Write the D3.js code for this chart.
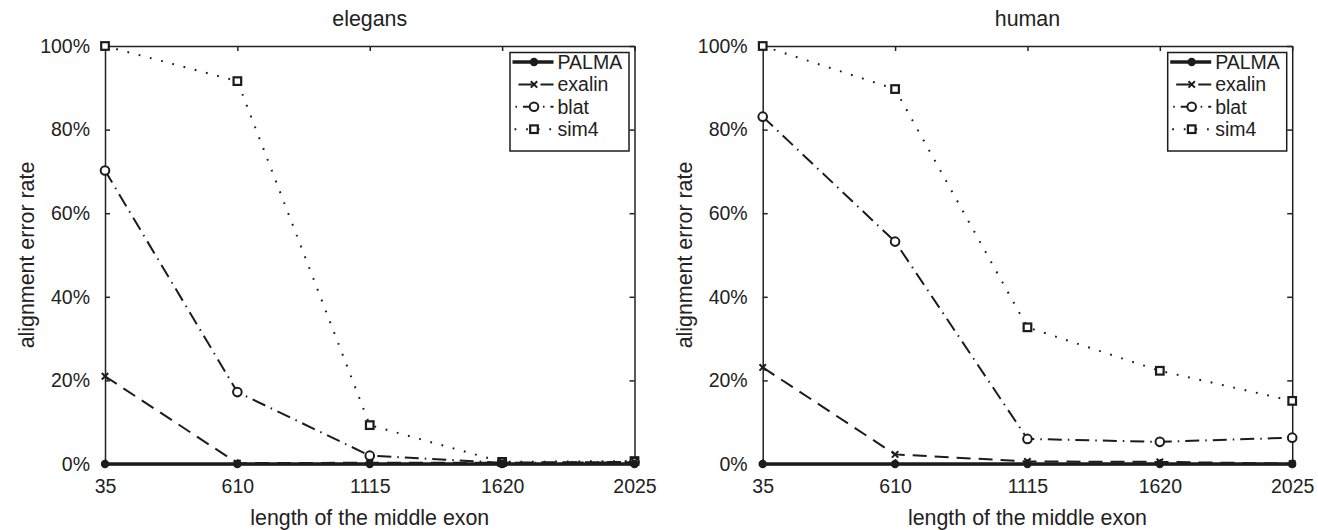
<!doctype html>
<html>
<head>
<meta charset="utf-8">
<title>alignment error rate</title>
<script src="https://cdn.jsdelivr.net/npm/d3@7"></script>
<style>
  body { margin: 0; background: #fff; }
  svg text { font-family: "Liberation Sans", Arial, sans-serif; fill: #222; }
  .axis text { font-size: 19.5px; }
  .axis path, .axis line { stroke: #222; stroke-width: 1.5; }
  .label { font-size: 21.4px; }
</style>
</head>
<body>
<script>
// x categories (length of the middle exon) and y ticks
var lengths = ["35", "610", "1115", "1620", "2025"];
var yTicks = [0, 20, 40, 60, 80, 100];
var methods = ["PALMA", "exalin", "blat", "sim4"];

// error rates in %
var elegansPALMA  = [0, 0, 0, 0, 0];
var elegansExalin = [21, 0.2, 0.3, 0.3, 0.5];
var elegansBlat   = [70.2, 17.2, 2.0, 0.3, 0.4];
var elegansSim4   = [100, 91.6, 9.3, 0.5, 0.7];

var humanPALMA  = [0, 0, 0, 0, 0];
var humanExalin = [23.1, 2.3, 0.6, 0.5, 0.1];
var humanBlat   = [83.1, 53.2, 6.0, 5.3, 6.3];
var humanSim4   = [100, 89.7, 32.7, 22.3, 15.1];

var W = 1318, H = 530;
var svg = d3.select("body").append("svg").attr("width", W).attr("height", H);

// line style for each method (legend offset shifts the dash pattern in the key)
var styles = {
  PALMA:  {width: 3.5, dash: null,         off: 0,  marker: "dot"},
  exalin: {width: 2,   dash: "14,8",       off: -6, marker: "x"},
  blat:   {width: 2,   dash: "14,6,1.5,6", off: 17, marker: "circle"},
  sim4:   {width: 2,   dash: "1.8,9.8",    off: -2, marker: "square"}
};
var ink = "#1c1c1c";

function drawMarker(g, kind, cx, cy){
  if(kind === "dot"){
    g.append("circle").attr("cx", cx).attr("cy", cy).attr("r", 4.2).attr("fill", ink);
  }else if(kind === "circle"){
    g.append("circle").attr("cx", cx).attr("cy", cy).attr("r", 4.3)
      .attr("fill", "#fff").attr("stroke", ink).attr("stroke-width", 2);
  }else if(kind === "square"){
    g.append("rect").attr("x", cx - 3.8).attr("y", cy - 3.8).attr("width", 7.6).attr("height", 7.6)
      .attr("fill", "#fff").attr("stroke", ink).attr("stroke-width", 2.2);
  }else if(kind === "x"){
    var s = 3.2;
    g.append("path").attr("d", "M" + (cx - s) + "," + (cy - s) + "L" + (cx + s) + "," + (cy + s) +
      "M" + (cx - s) + "," + (cy + s) + "L" + (cx + s) + "," + (cy - s))
      .attr("stroke", ink).attr("stroke-width", 2).attr("fill", "none");
  }
}

function drawPanel(left, title, series){
  var right = left + 529.5, top = 46, bottom = 464;
  var x = d3.scalePoint().domain(lengths).range([left, right]);
  var y = d3.scaleLinear().domain([0, 100]).range([bottom, top]);
  var g = svg.append("g");

  // frame with inward ticks
  g.append("g").attr("class", "axis").attr("transform", "translate(0," + bottom + ")")
    .call(d3.axisBottom(x).tickSize(-5).tickSizeOuter(0).tickPadding(15));
  g.append("g").attr("class", "axis").attr("transform", "translate(0," + top + ")")
    .call(d3.axisTop(x).tickSize(-5).tickSizeOuter(0).tickFormat(""));
  g.append("g").attr("class", "axis").attr("transform", "translate(" + left + ",0)")
    .call(d3.axisLeft(y).tickValues(yTicks).tickSize(-5).tickSizeOuter(0).tickPadding(15)
      .tickFormat(function(d){ return d + "%"; }));
  g.append("g").attr("class", "axis").attr("transform", "translate(" + right + ",0)")
    .call(d3.axisRight(y).tickValues(yTicks).tickSize(-5).tickSizeOuter(0).tickFormat(""));
  g.selectAll(".axis .tick text").attr("fill", "#222");

  // titles
  g.append("text").attr("class", "label").attr("x", (left + right) / 2).attr("y", 26)
    .attr("text-anchor", "middle").text(title);
  g.append("text").attr("class", "label").attr("x", (left + right) / 2).attr("y", 525)
    .attr("text-anchor", "middle").text("length of the middle exon");
  g.append("text").attr("class", "label")
    .attr("transform", "translate(" + (left - 71) + "," + ((top + bottom) / 2) + ") rotate(-90)")
    .attr("text-anchor", "middle").text("alignment error rate");

  // lines, PALMA last so it sits on top
  var line = d3.line().x(function(d, i){ return x(lengths[i]); }).y(function(d){ return y(d); });
  methods.slice().reverse().forEach(function(m){
    var st = styles[m];
    g.append("path").datum(series[m]).attr("d", line)
      .attr("fill", "none").attr("stroke", ink).attr("stroke-width", st.width)
      .attr("stroke-dasharray", st.dash);
    series[m].forEach(function(v, i){ drawMarker(g, st.marker, x(lengths[i]), y(v)); });
  });

  // legend
  var lw = 119, lh = 98.5, lx = right - 5.5 - lw, ly = 52.5;
  var lg = g.append("g");
  lg.append("rect").attr("x", lx).attr("y", ly).attr("width", lw).attr("height", lh)
    .attr("fill", "#fff").attr("stroke", ink).attr("stroke-width", 1.5);
  methods.forEach(function(m, i){
    var st = styles[m];
    var ry = ly + 9.5 + i * 22.4;
    lg.append("path").attr("d", "M" + (lx + 2.5) + "," + ry + "H" + (lx + 43.5))
      .attr("stroke", ink).attr("stroke-width", st.width)
      .attr("stroke-dasharray", st.dash).attr("stroke-dashoffset", st.off);
    drawMarker(lg, st.marker, lx + 24, ry);
    lg.append("text").attr("x", lx + 47.5).attr("y", ry).attr("dy", "0.36em")
      .style("font-size", "19.5px").text(m);
  });
}

drawPanel(105, "elegans", {PALMA: elegansPALMA, exalin: elegansExalin, blat: elegansBlat, sim4: elegansSim4});
drawPanel(762.7, "human", {PALMA: humanPALMA, exalin: humanExalin, blat: humanBlat, sim4: humanSim4});
</script>
</body>
</html>
